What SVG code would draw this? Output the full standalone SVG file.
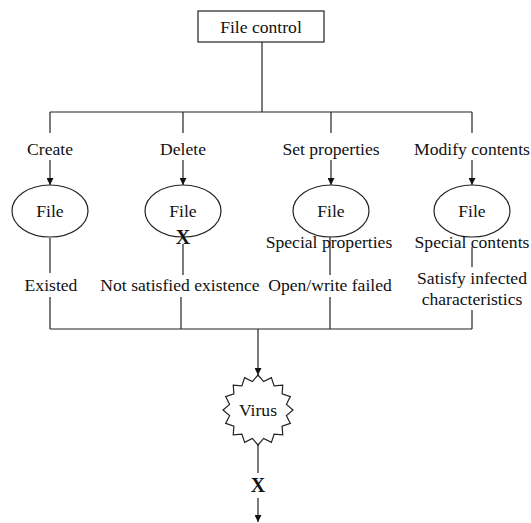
<svg xmlns="http://www.w3.org/2000/svg" width="531" height="523" viewBox="0 0 531 523">
<defs>
<marker id="arr" viewBox="0 0 10 10" refX="10" refY="5" markerWidth="7" markerHeight="7" markerUnits="userSpaceOnUse" orient="auto">
<path d="M0,0 L10,5 L0,10 Z" fill="#111"/>
</marker>
<style>
.t{font-family:"Liberation Serif","Times New Roman",serif;font-size:17.6px;fill:#111;text-anchor:middle}
.x{font-family:"Liberation Serif","Times New Roman",serif;font-size:20px;font-weight:bold;fill:#111;text-anchor:middle}
.s{fill:#fff;stroke:#222;stroke-width:1.2}
.c line,.c polyline{stroke:#222;stroke-width:1.2;fill:none}
.a{marker-end:url(#arr)}
</style>
</defs>
<rect width="531" height="523" fill="#fff"/>
<g class="c" id="connectors">
<line x1="262" y1="42" x2="262" y2="112"/>
<line x1="50" y1="112" x2="472" y2="112"/>
<line x1="50" y1="112" x2="50" y2="133"/>
<line x1="183" y1="112" x2="183" y2="133"/>
<line x1="331" y1="112" x2="331" y2="133"/>
<line x1="472" y1="112" x2="472" y2="133"/>
<line class="a" x1="50" y1="160" x2="50" y2="185"/>
<line class="a" x1="183" y1="160" x2="183" y2="185"/>
<line class="a" x1="331" y1="160" x2="331" y2="185"/>
<line class="a" x1="472" y1="160" x2="472" y2="185"/>
<line x1="50" y1="238" x2="50" y2="273"/>
<line x1="183" y1="275" x2="183" y2="244"/>
<line x1="330" y1="237" x2="330" y2="275"/>
<line x1="472" y1="247" x2="472" y2="267"/>
<line x1="50" y1="297" x2="50" y2="329"/>
<line x1="181" y1="297" x2="181" y2="329"/>
<line x1="330" y1="297" x2="330" y2="329"/>
<line x1="472" y1="310" x2="472" y2="329"/>
<line x1="50" y1="329" x2="472" y2="329"/>
<line class="a" x1="258" y1="329" x2="258" y2="375"/>
<line x1="258" y1="445" x2="258" y2="473"/>
<line class="a" x1="258" y1="498" x2="258" y2="522"/>
</g>
<g id="file-control">
<rect class="s" x="198" y="11" width="126" height="31"/>
<text class="t" x="261" y="33">File control</text>
</g>
<g id="label-create"><text class="t" x="50" y="155">Create</text></g>
<g id="label-delete"><text class="t" x="183" y="155">Delete</text></g>
<g id="label-setprops"><text class="t" x="331" y="155">Set properties</text></g>
<g id="label-modify"><text class="t" x="472" y="155">Modify contents</text></g>
<g id="file1"><ellipse class="s" cx="50" cy="211" rx="38" ry="26"/><text class="t" x="50" y="217">File</text></g>
<g id="file2"><ellipse class="s" cx="183" cy="211" rx="38" ry="26"/><text class="t" x="183" y="217">File</text><text class="x" x="183" y="244">X</text></g>
<g id="file3"><ellipse class="s" cx="331" cy="211" rx="38" ry="26"/><text class="t" x="331" y="217">File</text><text class="t" x="329" y="248">Special properties</text></g>
<g id="file4"><ellipse class="s" cx="472" cy="211" rx="38" ry="26"/><text class="t" x="472" y="217">File</text><text class="t" x="472" y="248">Special contents</text></g>
<g id="label-existed"><text class="t" x="51" y="291">Existed</text></g>
<g id="label-notsat"><text class="t" x="180" y="291">Not satisfied existence</text></g>
<g id="label-openfail"><text class="t" x="330" y="291">Open/write failed</text></g>
<g id="label-satisfy"><text class="t" x="472" y="284">Satisfy infected</text><text class="t" x="472" y="305">characteristics</text></g>
<g id="virus">
<polygon class="s" points="258,375 263.66,381.56 271.39,377.66 274.11,385.89 282.75,385.25 282.11,393.89 290.34,396.61 286.44,404.34 293,410 286.44,415.66 290.34,423.39 282.11,426.11 282.75,434.75 274.11,434.11 271.39,442.34 263.66,438.44 258,445 252.34,438.44 244.61,442.34 241.89,434.11 233.25,434.75 233.89,426.11 225.66,423.39 229.56,415.66 223,410 229.56,404.34 225.66,396.61 233.89,393.89 233.25,385.25 241.89,385.89 244.61,377.66 252.34,381.56"/>
<text class="t" x="258" y="416">Virus</text>
</g>
<g id="block-x"><text class="x" x="258" y="492">X</text></g>
</svg>
